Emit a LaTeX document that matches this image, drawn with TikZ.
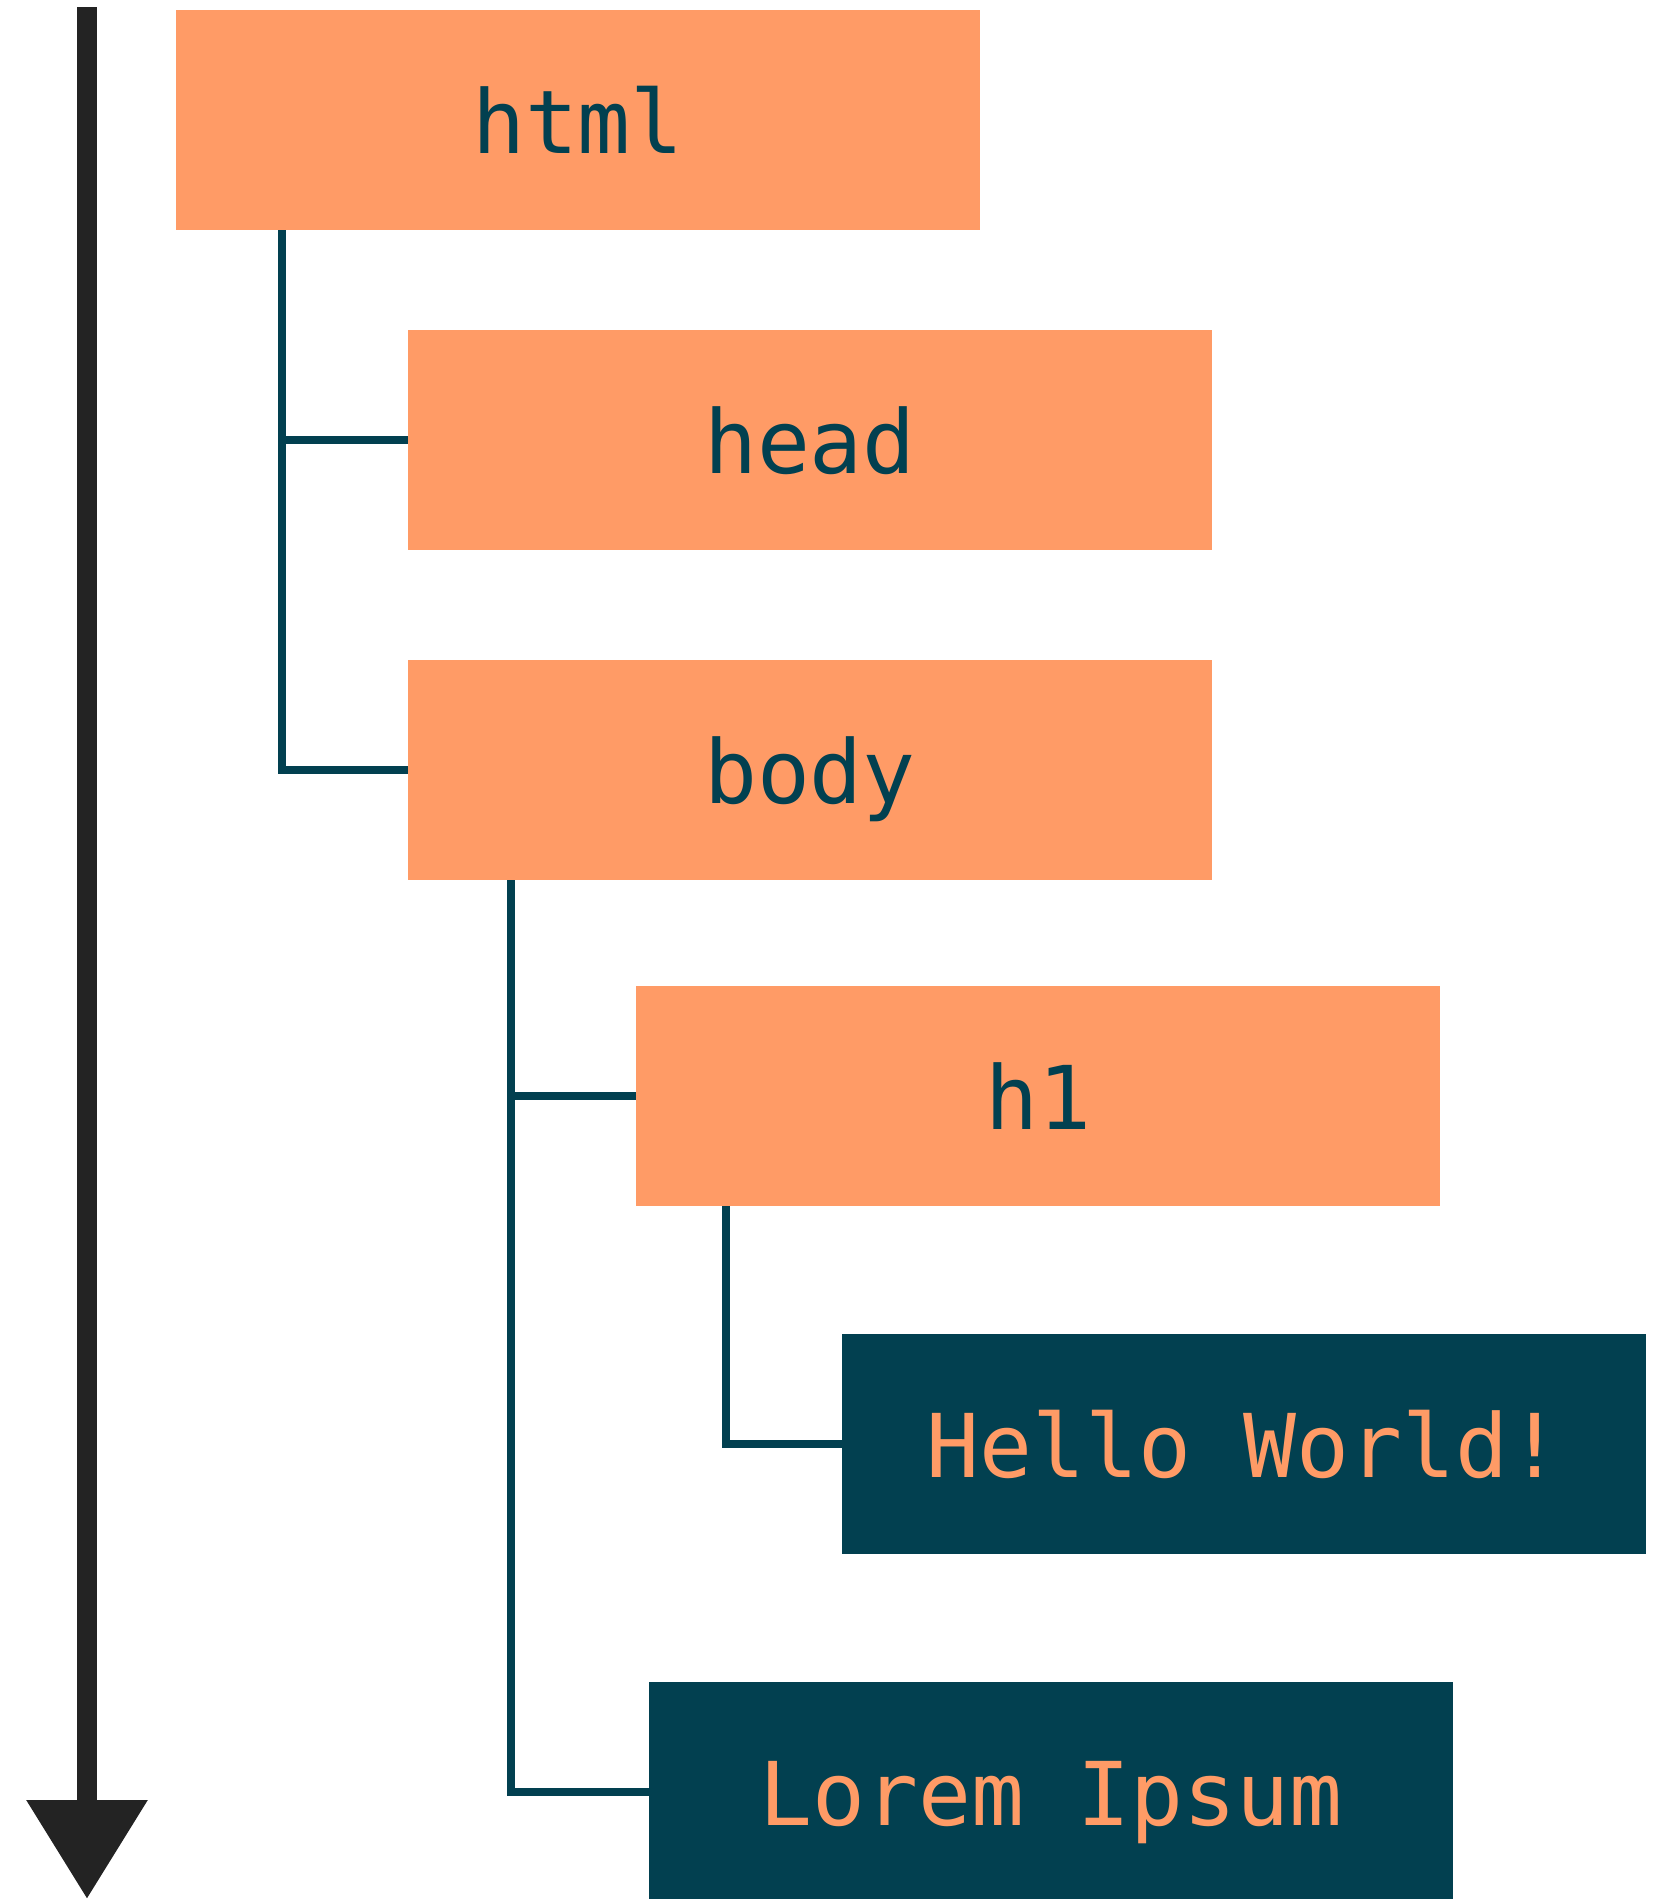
\documentclass[tikz,border=0pt]{standalone}
\usepackage{fontspec}
\usetikzlibrary{arrows.meta}
\newfontfamily\codefont{DejaVu Sans Mono}

\definecolor{tagorange}{HTML}{FF9B66}
\definecolor{tagteal}{HTML}{024050}
\definecolor{flowgray}{HTML}{232323}

\begin{document}
\begin{tikzpicture}[
            x=1pt, y=-1pt,
            tag/.style={rectangle, fill=tagorange, text=tagteal, minimum width=804pt, minimum height=220pt, inner sep=0pt,
                font=\codefont\fontsize{88}{100}\selectfont, text height=66pt, text depth=0pt},
            content/.style={tag, fill=tagteal, text=tagorange},
            link/.style={draw=tagteal, line width=8pt},
            flow/.style={draw=flowgray, line width=20pt, -{Triangle[length=99pt, width=116pt]}}
        ]
        \useasboundingbox[fill=white] (0,0) rectangle (1671,1899);

        % Document order arrow
        \coordinate (flow-top) at (87,7);
        \coordinate (flow-end) at (87,1899);
        \draw[flow] (flow-top) -- (flow-end);

        % Element nodes
        \node[tag] (html) at (578,120) {html};
        \node[tag] (head) at (810,440) {head};
        \node[tag] (body) at (810,770) {body};
        \node[tag] (h1) at (1038,1096) {h1};

        % Text nodes
        \node[content] (hello) at (1244,1444) {Hello World!};
        \node[content] (lorem) at (1051,1792) {Lorem Ipsum};

        % Tree links
        \draw[link] ([xshift=106pt]html.south west) |- (head.west);
        \draw[link] ([xshift=106pt]html.south west) |- (body.west);
        \draw[link] ([xshift=103pt]body.south west) |- (h1.west);
        \draw[link] ([xshift=103pt]body.south west) |- (lorem.west);
        \draw[link] ([xshift=90pt]h1.south west) |- (hello.west);

        \end{tikzpicture}
\end{document}
